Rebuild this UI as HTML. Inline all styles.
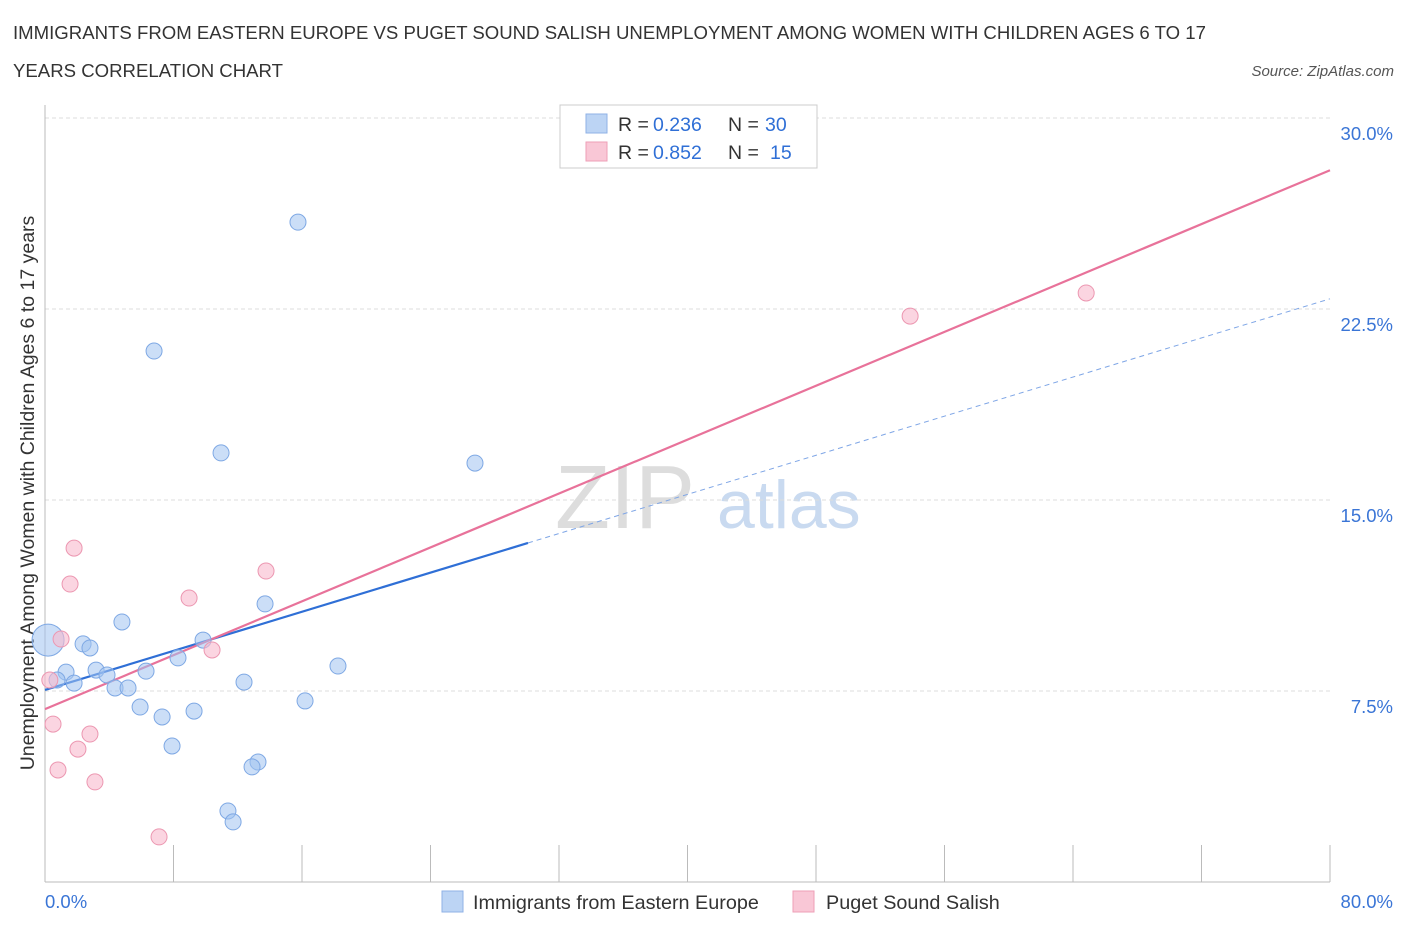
<!DOCTYPE html>
<html><head><meta charset="utf-8"><style>
body{margin:0;background:#fff;font-family:"Liberation Sans",sans-serif;}
svg text{font-family:"Liberation Sans",sans-serif;}
</style></head><body>
<svg id="chart" width="1406" height="930" viewBox="0 0 1406 930">
<text x="13" y="39" font-size="18.6" fill="#333">IMMIGRANTS FROM EASTERN EUROPE VS PUGET SOUND SALISH UNEMPLOYMENT AMONG WOMEN WITH CHILDREN AGES 6 TO 17</text>
<text x="13" y="77" font-size="18.6" fill="#333">YEARS CORRELATION CHART</text>
<text x="1394" y="76" font-size="15" font-style="italic" fill="#555" text-anchor="end">Source: ZipAtlas.com</text>
<text x="34" y="493" font-size="19.5" fill="#333" text-anchor="middle" transform="rotate(-90 34 493)">Unemployment Among Women with Children Ages 6 to 17 years</text>
<text x="555" y="528" font-size="90" fill="#ddd" font-family="Liberation Serif">ZIP</text>
<text x="717" y="528" font-size="68" fill="#c9daf0">atlas</text>
<g id="grid"></g><g id="axes"></g><g id="lines"></g><g id="pts"></g>
<g>
<rect x="560" y="105" width="257" height="63" fill="#fff" stroke="#ccc"/>
<rect x="586" y="114" width="21" height="19" fill="#bcd4f4" stroke="#8fb2e6"/>
<rect x="586" y="142" width="21" height="19" fill="#f9c7d6" stroke="#ee9fb7"/>
<text x="618" y="131" font-size="19.5" fill="#333">R =</text>
<text x="653" y="131" font-size="19.5" fill="#2f6fd6">0.236</text>
<text x="728" y="131" font-size="19.5" fill="#333">N =</text>
<text x="765" y="131" font-size="19.5" fill="#2f6fd6">30</text>
<text x="618" y="159" font-size="19.5" fill="#333">R =</text>
<text x="653" y="159" font-size="19.5" fill="#2f6fd6">0.852</text>
<text x="728" y="159" font-size="19.5" fill="#333">N =</text>
<text x="770" y="159" font-size="19.5" fill="#2f6fd6">15</text>
</g>
<g>
<rect x="442" y="891" width="21" height="21" fill="#bcd4f4" stroke="#8fb2e6"/>
<text x="473" y="909" font-size="19.8" fill="#333">Immigrants from Eastern Europe</text>
<rect x="793" y="891" width="21" height="21" fill="#f9c7d6" stroke="#ee9fb7"/>
<text x="826" y="909" font-size="19.8" fill="#333">Puget Sound Salish</text>
</g>
</svg>
<script>
const blueX=[15.75,6.79,10.96,26.77,4.79,13.70,2.37,2.80,9.84,8.28,3.18,1.31,3.86,6.29,18.24,0.75,1.81,4.36,5.17,12.39,5.92,7.29,9.28,16.19,7.91,13.26,12.89,11.39,11.71,0.19];
const blueY=[25.91,20.85,16.85,16.45,10.21,10.92,9.35,9.19,9.50,8.80,8.32,8.24,8.13,8.28,8.48,7.93,7.81,7.62,7.62,7.85,6.87,6.48,6.71,7.11,5.34,4.71,4.52,2.79,2.36,9.50];
const blueSize=[8,8,8,8,8,8,8,8,8,8,8,8,8,8,8,8,8,8,8,8,8,8,8,8,8,8,8,8,8,16];
const pinkX=[1.81,1.56,13.76,8.97,1.00,10.40,0.50,0.81,2.05,2.80,3.11,7.10,53.86,64.82,0.30];
const pinkY=[13.11,11.70,12.21,11.15,9.54,9.11,6.20,4.40,5.22,5.81,3.93,1.77,22.22,23.13,7.93];
const blueTrend=[7.54,0.192];
const pinkTrend=[6.79,0.2645];
const yTicks=[7.5,15,22.5,30];
const xTickVals=[0,8,16,24,32,40,48,56,64,72,80];
const NS="http://www.w3.org/2000/svg";
const xs=v=>45+v*(1285/80), ys=v=>882-v*(764/30);
function mk(tag,attrs,parent){const e=document.createElementNS(NS,tag);for(const k in attrs)e.setAttribute(k,attrs[k]);document.getElementById(parent).appendChild(e);return e;}
yTicks.forEach(t=>{
 const g=mk('line',{x1:45,x2:1330,y1:ys(t),y2:ys(t),stroke:'#ddd','stroke-dasharray':'4,3'},'grid');
 
 
 const l=mk('text',{x:1393,y:ys(t)+22,'font-size':18.5,fill:'#3a75d6','text-anchor':'end'},'grid');
 l.textContent=t.toFixed(1)+'%';
 
 
});
const ax=mk('line',{x1:45,x2:1330,y1:882,y2:882,stroke:'#bbb'},'axes');


const ay=mk('line',{x1:45,x2:45,y1:105,y2:882,stroke:'#bbb'},'axes');


xTickVals.forEach(t=>{
 const k=mk('line',{x1:xs(t),x2:xs(t),y1:845,y2:882,stroke:'#bbb'},'axes');
 
 
});
[[0,'0.0%','start',45],[80,'80.0%','end',1393]].forEach(a=>{
 const l=mk('text',{x:a[3],y:908,'font-size':18.5,fill:'#3a75d6','text-anchor':a[2]},'axes');
 l.textContent=a[1];
 
 
});
const bs=mk('line',{x1:xs(0),y1:ys(blueTrend[0]),x2:xs(30.07),y2:ys(blueTrend[0]+blueTrend[1]*30.07),stroke:'#2f6fd6','stroke-width':2.2},'lines');


const bd=mk('line',{x1:xs(30.07),y1:ys(blueTrend[0]+blueTrend[1]*30.07),x2:xs(80),y2:ys(blueTrend[0]+blueTrend[1]*80),stroke:'#7fa6e6','stroke-width':1,'stroke-dasharray':'5,4'},'lines');


const pl=mk('line',{x1:xs(0),y1:ys(pinkTrend[0]),x2:xs(80),y2:ys(pinkTrend[0]+pinkTrend[1]*80),stroke:'#e8729a','stroke-width':2.2},'lines');


blueX.forEach((x,i)=>{
 const c=mk('circle',{cx:xs(x),cy:ys(blueY[i]),r:blueSize[i],fill:'rgba(160,195,240,0.55)',stroke:'#7ea8e4','stroke-width':1},'pts');
 
 
});
pinkX.forEach((x,i)=>{
 const c=mk('circle',{cx:xs(x),cy:ys(pinkY[i]),r:8,fill:'rgba(248,185,205,0.6)',stroke:'#ec97b1','stroke-width':1},'pts');
 
 
});
</script>
</body></html>
